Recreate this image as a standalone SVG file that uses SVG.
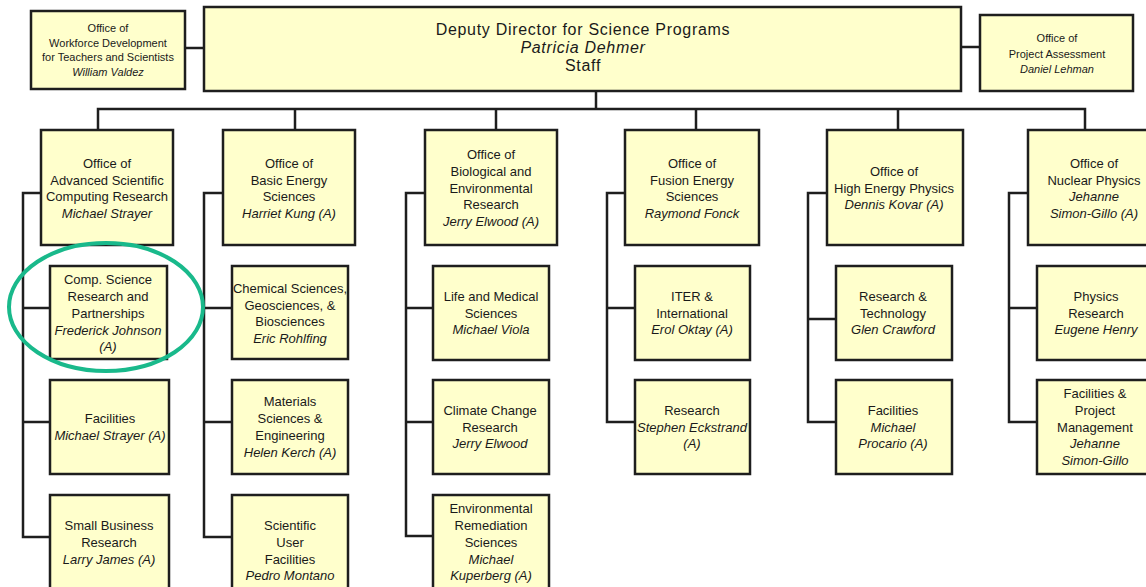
<svg xmlns="http://www.w3.org/2000/svg" width="1146" height="587" viewBox="0 0 1146 587">
<style>
.box{fill:#ffffcc;stroke:#1e1e1e;stroke-width:2.5}
.t{font-family:"Liberation Sans",Arial,sans-serif;font-size:13px;fill:#1a1a1a;text-anchor:middle}
.s{font-size:11px}
.big{font-size:16px;letter-spacing:0.7px}
.i{font-style:italic}
.ln{fill:none;stroke:#1e1e1e;stroke-width:2.5}
.hl{fill:none;stroke:#19b98b;stroke-width:4}
</style>
<rect width="1146" height="587" fill="#ffffff"/>
<g id="connectors" class="ln">
<path d="M185,48 H204"/>
<path d="M961,47 H980"/>
<path d="M596,91 V109"/>
<path d="M98,130 V109 H1085 V130"/>
<path d="M295,109 V130"/>
<path d="M496,109 V130"/>
<path d="M696,109 V130"/>
<path d="M898,109 V130"/>
<path d="M41,193 H23 V537 H50 M23,308 H50 M23,422 H50"/>
<path d="M223,193 H204 V537 H232 M204,308 H232 M204,422 H232"/>
<path d="M425,193 H406 V536 H433 M406,308 H433 M406,422 H433"/>
<path d="M625,193 H607 V422 H635 M607,308 H635"/>
<path d="M827,193 H808 V422 H836 M808,319 H836"/>
<path d="M1028,193 H1009 V422 H1037 M1009,308 H1037"/>
</g>
<g id="workforce"><rect class="box" x="31" y="11" width="154" height="78"/>
<text class="t s"><tspan x="108" y="32">Office of</tspan><tspan x="108" y="47">Workforce Development</tspan><tspan x="108" y="61">for Teachers and Scientists</tspan><tspan class="i" x="108" y="76">William Valdez</tspan></text></g>
<g id="deputy"><rect class="box" x="204" y="7" width="757" height="84"/>
<text class="t big"><tspan x="583" y="35">Deputy Director for Science Programs</tspan><tspan class="i" x="583" y="53">Patricia Dehmer</tspan><tspan x="583" y="71">Staff</tspan></text></g>
<g id="project"><rect class="box" x="980" y="15" width="153" height="76"/>
<text class="t s"><tspan x="1057" y="42">Office of</tspan><tspan x="1057" y="58">Project Assessment</tspan><tspan class="i" x="1057" y="73">Daniel Lehman</tspan></text></g>
<g id="ascr"><rect class="box" x="41" y="130" width="132" height="115"/>
<text class="t"><tspan x="107" y="168">Office of</tspan><tspan x="107" y="185">Advanced Scientific</tspan><tspan x="107" y="201">Computing Research</tspan><tspan class="i" x="107" y="218">Michael Strayer</tspan></text></g>
<g id="bes"><rect class="box" x="223" y="130" width="132" height="115"/>
<text class="t"><tspan x="289" y="168">Office of</tspan><tspan x="289" y="185">Basic Energy</tspan><tspan x="289" y="201">Sciences</tspan><tspan class="i" x="289" y="218">Harriet Kung (A)</tspan></text></g>
<g id="ber"><rect class="box" x="425" y="130" width="132" height="115"/>
<text class="t"><tspan x="491" y="159">Office of</tspan><tspan x="491" y="176">Biological and</tspan><tspan x="491" y="193">Environmental</tspan><tspan x="491" y="209">Research</tspan><tspan class="i" x="491" y="226">Jerry Elwood (A)</tspan></text></g>
<g id="fes"><rect class="box" x="625" y="130" width="134" height="115"/>
<text class="t"><tspan x="692" y="168">Office of</tspan><tspan x="692" y="185">Fusion Energy</tspan><tspan x="692" y="201">Sciences</tspan><tspan class="i" x="692" y="218">Raymond Fonck</tspan></text></g>
<g id="hep"><rect class="box" x="827" y="130" width="136" height="115"/>
<text class="t"><tspan x="894" y="176">Office of</tspan><tspan x="894" y="193">High Energy Physics</tspan><tspan class="i" x="894" y="209">Dennis Kovar (A)</tspan></text></g>
<g id="np"><rect class="box" x="1028" y="130" width="134" height="115"/>
<text class="t"><tspan x="1094" y="168">Office of</tspan><tspan x="1094" y="185">Nuclear Physics</tspan><tspan class="i" x="1094" y="201">Jehanne</tspan><tspan class="i" x="1094" y="218">Simon-Gillo (A)</tspan></text></g>
<g id="ascr-csrp"><rect class="box" x="50" y="266" width="117" height="93"/>
<text class="t"><tspan x="108" y="284">Comp. Science</tspan><tspan x="108" y="301">Research and</tspan><tspan x="108" y="318">Partnerships</tspan><tspan class="i" x="108" y="335">Frederick Johnson</tspan><tspan class="i" x="108" y="351">(A)</tspan></text></g>
<g id="ascr-fac"><rect class="box" x="50" y="380" width="119" height="94"/>
<text class="t"><tspan x="110" y="423">Facilities</tspan><tspan class="i" x="110" y="440">Michael Strayer (A)</tspan></text></g>
<g id="ascr-sbr"><rect class="box" x="50" y="495" width="119" height="110"/>
<text class="t"><tspan x="109" y="530">Small Business</tspan><tspan x="109" y="547">Research</tspan><tspan class="i" x="109" y="564">Larry James (A)</tspan></text></g>
<g id="bes-cgb"><rect class="box" x="232" y="266" width="116" height="93"/>
<text class="t"><tspan x="290" y="293">Chemical Sciences,</tspan><tspan x="290" y="310">Geosciences, &amp;</tspan><tspan x="290" y="326">Biosciences</tspan><tspan class="i" x="290" y="343">Eric Rohlfing</tspan></text></g>
<g id="bes-mse"><rect class="box" x="232" y="380" width="116" height="94"/>
<text class="t"><tspan x="290" y="406">Materials</tspan><tspan x="290" y="423">Sciences &amp;</tspan><tspan x="290" y="440">Engineering</tspan><tspan class="i" x="290" y="457">Helen Kerch (A)</tspan></text></g>
<g id="bes-suf"><rect class="box" x="232" y="495" width="116" height="110"/>
<text class="t"><tspan x="290" y="530">Scientific</tspan><tspan x="290" y="547">User</tspan><tspan x="290" y="564">Facilities</tspan><tspan class="i" x="290" y="580">Pedro Montano</tspan></text></g>
<g id="ber-lms"><rect class="box" x="433" y="266" width="116" height="94"/>
<text class="t"><tspan x="491" y="301">Life and Medical</tspan><tspan x="491" y="318">Sciences</tspan><tspan class="i" x="491" y="334">Michael Viola</tspan></text></g>
<g id="ber-ccr"><rect class="box" x="433" y="380" width="116" height="94"/>
<text class="t"><tspan x="490" y="415">Climate Change</tspan><tspan x="490" y="432">Research</tspan><tspan class="i" x="490" y="448">Jerry Elwood</tspan></text></g>
<g id="ber-ers"><rect class="box" x="433" y="495" width="116" height="110"/>
<text class="t"><tspan x="491" y="513">Environmental</tspan><tspan x="491" y="530">Remediation</tspan><tspan x="491" y="547">Sciences</tspan><tspan class="i" x="491" y="564">Michael</tspan><tspan class="i" x="491" y="580">Kuperberg (A)</tspan></text></g>
<g id="fes-iter"><rect class="box" x="635" y="266" width="115" height="94"/>
<text class="t"><tspan x="692" y="301">ITER &amp;</tspan><tspan x="692" y="318">International</tspan><tspan class="i" x="692" y="334">Erol Oktay (A)</tspan></text></g>
<g id="fes-res"><rect class="box" x="635" y="380" width="115" height="94"/>
<text class="t"><tspan x="692" y="415">Research</tspan><tspan class="i" x="692" y="432">Stephen Eckstrand</tspan><tspan class="i" x="692" y="448">(A)</tspan></text></g>
<g id="hep-rt"><rect class="box" x="836" y="266" width="116" height="94"/>
<text class="t"><tspan x="893" y="301">Research &amp;</tspan><tspan x="893" y="318">Technology</tspan><tspan class="i" x="893" y="334">Glen Crawford</tspan></text></g>
<g id="hep-fac"><rect class="box" x="836" y="380" width="116" height="94"/>
<text class="t"><tspan x="893" y="415">Facilities</tspan><tspan class="i" x="893" y="432">Michael</tspan><tspan class="i" x="893" y="448">Procario (A)</tspan></text></g>
<g id="np-pr"><rect class="box" x="1037" y="266" width="122" height="94"/>
<text class="t"><tspan x="1096" y="301">Physics</tspan><tspan x="1096" y="318">Research</tspan><tspan class="i" x="1096" y="334">Eugene Henry</tspan></text></g>
<g id="np-fpm"><rect class="box" x="1037" y="380" width="122" height="94"/>
<text class="t"><tspan x="1095" y="398">Facilities &amp;</tspan><tspan x="1095" y="415">Project</tspan><tspan x="1095" y="432">Management</tspan><tspan class="i" x="1095" y="448">Jehanne</tspan><tspan class="i" x="1095" y="465">Simon-Gillo</tspan></text></g>
<ellipse id="highlight" class="hl" cx="106" cy="307" rx="97" ry="64"/>
</svg>
